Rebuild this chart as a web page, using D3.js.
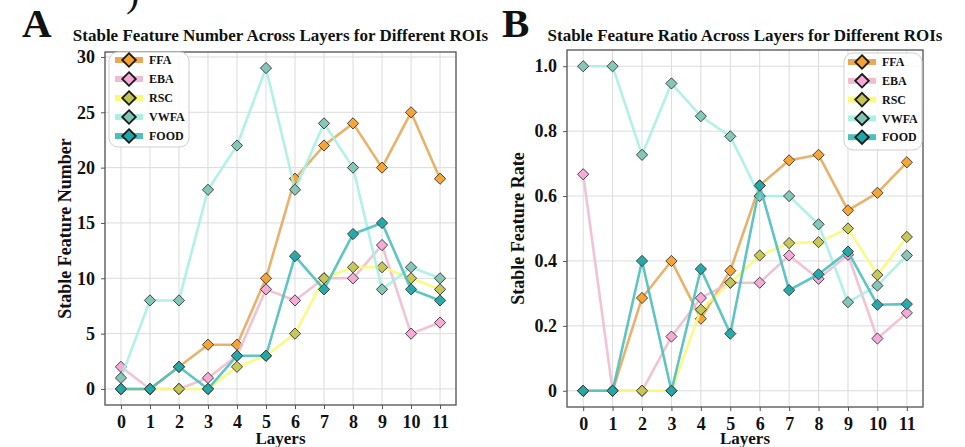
<!DOCTYPE html>
<html><head><meta charset="utf-8">
<script src="https://cdn.jsdelivr.net/npm/d3@7"></script>
<style>
html,body{margin:0;padding:0;background:#fff;}
svg{display:block;}
text{font-family:"Liberation Serif","Times New Roman",serif;font-weight:bold;fill:#111;}
</style></head>
<body>
<svg id="chart" width="965" height="447"></svg>
<script>
// ---------- data ----------
const layers = [0,1,2,3,4,5,6,7,8,9,10,11];
const roiNames = ["FFA","EBA","RSC","VWFA","FOOD"];

// Panel A: stable feature number
const numFFA  = [0,0,2,4,4,10,19,22,24,20,25,19];
const numEBA  = [2,0,0,1,3,9,8,10,10,13,5,6];
const numRSC  = [0,0,0,0,2,3,5,10,11,11,10,9];
const numVWFA = [1,8,8,18,22,29,18,24,20,9,11,10];
const numFOOD = [0,0,2,0,3,3,12,9,14,15,9,8];

// Panel B: stable feature ratio
const rateFFA  = [0,0,0.286,0.4,0.222,0.370,0.633,0.710,0.727,0.556,0.610,0.704];
const rateEBA  = [0.667,0,0,0.167,0.286,0.333,0.333,0.417,0.345,0.419,0.161,0.240];
const rateRSC  = [0,0,0,0,0.25,0.333,0.417,0.455,0.458,0.5,0.357,0.474];
const rateVWFA = [1.0,1.0,0.727,0.947,0.846,0.784,0.6,0.6,0.513,0.273,0.324,0.417];
const rateFOOD = [0,0,0.4,0,0.375,0.176,0.632,0.310,0.359,0.429,0.265,0.267];

const yTicksA = [0,5,10,15,20,25,30];
const yTickLabelsA = ["0","5","10","15","20","25","30"];
const yTicksB = [0,0.2,0.4,0.6,0.8,1.0];
const yTickLabelsB = ["0","0.2","0.4","0.6","0.8","1.0"];

const titleA = "Stable Feature Number Across Layers for Different ROIs";
const titleB = "Stable Feature Ratio Across Layers for Different ROIs";
const yLabelA = "Stable Feature Number";
const yLabelB = "Stable Feature Rate";
const xLabel = "Layers";

// ---------- styles ----------
const lineColors   = ["#E8A95A","#F0BCD3","#F9F97A","#AAF0E4","#4DBFBD"];
const markerColors = ["#F5A22E","#F6A8D6","#C4C452","#80C4B4","#1FA6A8"];

const svg = d3.select("#chart");

function diamondPath(h){ return `M0,${-h}L${h},0L0,${h}L${-h},0Z`; }

function panel(cfg){
  const {x0,x1,y0,y1,yDomain,yTicks,yTickLabels,series,title,yLabel,letter,letterX,legend,ylabX} = cfg;
  const x = d3.scaleLinear().domain([-0.55,11.55]).range([x0,x1]);
  const y = d3.scaleLinear().domain(yDomain).range([y1,y0]);
  const g = svg.append("g");

  // grid
  g.selectAll(".gx").data(layers).enter().append("line")
    .attr("x1",d=>x(d)).attr("x2",d=>x(d)).attr("y1",y0).attr("y2",y1)
    .attr("stroke","#dcdcdc").attr("stroke-width",1);
  g.selectAll(".gy").data(yTicks).enter().append("line")
    .attr("y1",d=>y(d)).attr("y2",d=>y(d)).attr("x1",x0).attr("x2",x1)
    .attr("stroke","#dcdcdc").attr("stroke-width",1);

  // axes
  const ax = d3.axisBottom(x).tickValues(layers).tickFormat(d3.format("d")).tickSize(4).tickPadding(6);
  const gx = g.append("g").attr("transform",`translate(0,${y1})`).call(ax);
  const ay = d3.axisLeft(y).tickValues(yTicks).tickFormat((d,i)=>yTickLabels[i]).tickSize(4).tickPadding(6);
  const gy = g.append("g").attr("transform",`translate(${x0},0)`).call(ay);
  [gx,gy].forEach(a=>{
    a.select(".domain").remove();
    a.selectAll(".tick line").attr("stroke","#555");
    a.selectAll(".tick text").style("font-family","'Liberation Serif',serif").style("font-weight","bold")
      .style("font-size","18px").attr("fill","#111");
  });
  gx.selectAll(".tick text").attr("dy","0.7em");

  // series
  const line = d3.line().x((d,i)=>x(layers[i])).y(d=>y(d));
  series.forEach((vals,k)=>{
    g.append("path").attr("d",line(vals)).attr("fill","none")
      .attr("stroke",lineColors[k]).attr("stroke-width",2.6).attr("stroke-opacity",0.9)
      .attr("stroke-linejoin","round");
    g.selectAll(null).data(vals).enter().append("path")
      .attr("d",diamondPath(5.6))
      .attr("transform",(d,i)=>`translate(${x(layers[i])},${y(d)})`)
      .attr("fill",markerColors[k]).attr("stroke","#333").attr("stroke-width",0.9)
      .attr("fill-opacity",0.95);
  });

  // frame
  g.append("rect").attr("x",x0).attr("y",y0).attr("width",x1-x0).attr("height",y1-y0)
    .attr("fill","none").attr("stroke","#505050").attr("stroke-width",1.3);

  // legend
  const L = legend;
  g.append("rect").attr("x",L.x).attr("y",L.y).attr("width",L.w).attr("height",L.h)
    .attr("rx",9).attr("fill","#fff").attr("fill-opacity",0.85)
    .attr("stroke","#cfcfcf").attr("stroke-width",1);
  roiNames.forEach((name,k)=>{
    const yy = L.y + L.first + k*L.step;
    g.append("line").attr("x1",L.hx).attr("x2",L.hx+28).attr("y1",yy).attr("y2",yy)
      .attr("stroke",lineColors[k]).attr("stroke-width",6);
    g.append("path").attr("d",diamondPath(6.8))
      .attr("transform",`translate(${L.hx+14},${yy})`)
      .attr("fill",markerColors[k]).attr("stroke","#1a1a1a").attr("stroke-width",1.8);
    g.append("text").attr("x",L.hx+34).attr("y",yy).attr("dy","0.35em")
      .style("font-size","12px").text(name);
  });

  // title
  g.append("text").attr("x",(x0+x1)/2).attr("y",41).attr("text-anchor","middle")
    .style("font-size","17px").text(title);
  // letter
  g.append("text").attr("x",letterX).attr("y",37).style("font-size","41px").text(letter);
  // y label
  g.append("text").attr("transform",`translate(${ylabX},${(y0+y1)/2}) rotate(-90)`)
    .attr("text-anchor","middle").style("font-size","18px").text(yLabel);
  // x label
  g.append("text").attr("x",(x0+x1)/2).attr("y",444).attr("text-anchor","middle")
    .style("font-size","17px").text(xLabel);
}

panel({x0:105,x1:456,y0:52,y1:405,yDomain:[-1.45,30.45],yTicks:yTicksA,yTickLabels:yTickLabelsA,
  series:[numFFA,numEBA,numRSC,numVWFA,numFOOD],title:titleA,yLabel:yLabelA,letter:"A",letterX:22,
  ylabX:71,legend:{x:109,y:52,w:80,h:95,hx:115,first:8,step:19}});
panel({x0:567,x1:923,y0:50,y1:407,yDomain:[-0.05,1.05],yTicks:yTicksB,yTickLabels:yTickLabelsB,
  series:[rateFFA,rateEBA,rateRSC,rateVWFA,rateFOOD],title:titleB,yLabel:yLabelB,letter:"B",letterX:502,
  ylabX:524,legend:{x:844,y:53,w:78,h:97,hx:848,first:9,step:18.8}});

// stray cropped glyph at the top of panel A
svg.append("text").attr("x",126).attr("y",6).style("font-size","40px").style("font-weight","normal").text(")");
</script>
</body></html>
